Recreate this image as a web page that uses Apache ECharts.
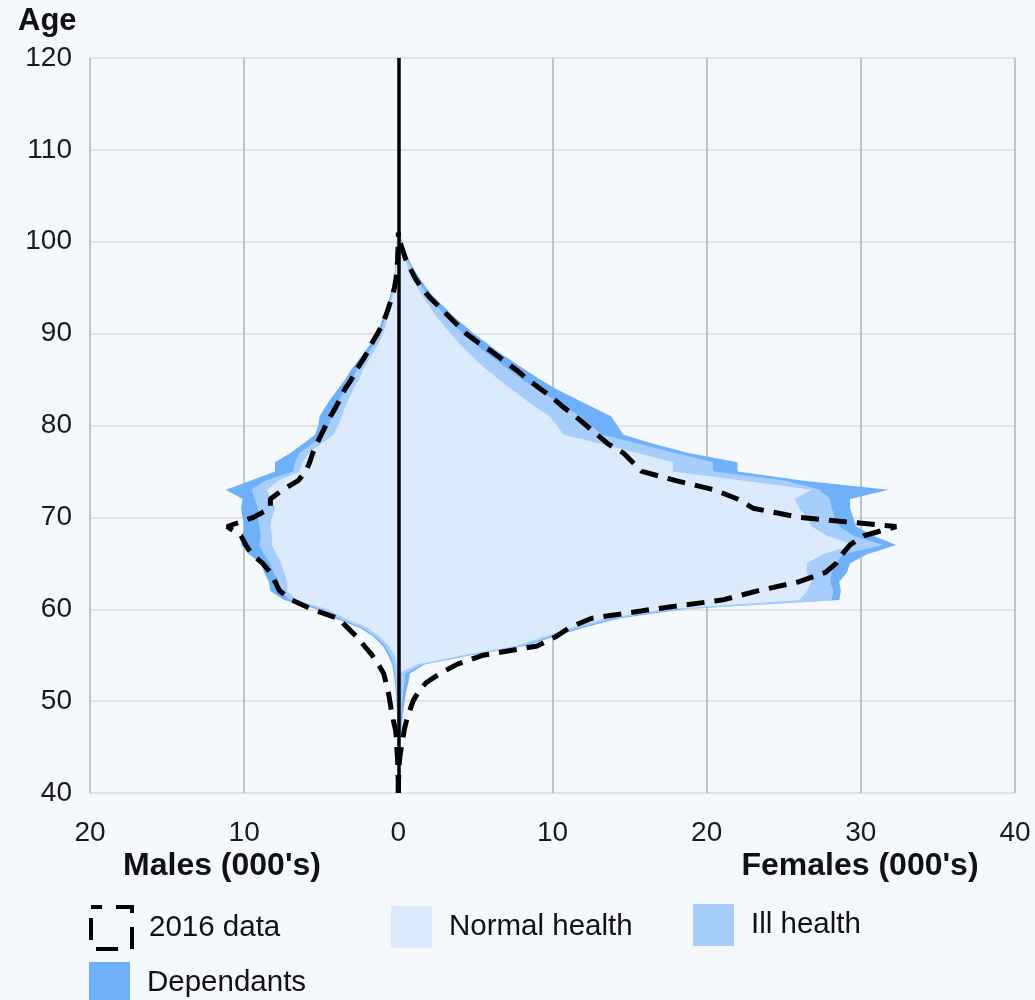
<!DOCTYPE html>
<html><head><meta charset="utf-8">
<script src="https://cdn.jsdelivr.net/npm/echarts@6/dist/echarts.min.js"></script>
<style>html,body{margin:0;padding:0;background:#f5f8fd;}#c{width:1035px;height:1000px;}</style>
</head><body><div id="c"></div>
<script>
// Age categories (y axis)
const ages = ['40','41','42','43','44','45','46','47','48','49','50','51','52','53','54','55','56','57','58','59',
'60','61','62','63','64','65','66','67','68','69','70','71','72','73','74','75','76','77','78','79',
'80','81','82','83','84','85','86','87','88','89','90','91','92','93','94','95','96','97','98','99',
'100','101','102','103','104','105','106','107','108','109','110','111','112','113','114','115','116','117','118','119','120'];
const xTicks = [-20,-10,0,10,20,30,40];

// Series values for ages 40..101 (thousands). Males stored as magnitudes.
const femaleNormal = [0,0,0,0,0,0,0,0,0,0,0,0,0,0,1.2,4.1,7.6,9.4,11.2,13.4,
17.3,26.0,26.5,26.8,26.5,26.5,27.5,29.5,27.8,26.8,26.5,26.0,25.7,26.8,22.4,17.8,17.8,15.5,13.2,10.7,
10.3,9.8,8.9,8.1,7.3,6.5,5.8,5.1,4.5,3.9,3.4,2.9,2.4,2.0,1.6,1.25,0.95,0.65,0.45,0.25,0.12,0.03];
const femaleIll = [0,0,0,0,0,0.05,0.08,0.12,0.15,0.2,0.25,0.3,0.4,0.45,0.3,0.35,0.35,0.4,0.45,0.5,
0.7,2.1,1.7,1.2,1.6,1.9,1.3,1.9,1.7,1.8,1.8,2.1,2.3,0.5,2.7,2.6,2.6,2.4,2.4,2.5,
2.2,2.0,1.9,1.8,1.6,1.5,1.4,1.3,1.1,1.0,0.8,0.7,0.6,0.5,0.4,0.3,0.25,0.2,0.15,0.12,0.08,0.04];
const femaleDep = [0,0,0,0,0,0.03,0.04,0.08,0.1,0.13,0.15,0.2,0.25,0.3,0.2,0.25,0.25,0.3,0.35,0.4,
0.5,0.5,0.5,0.6,1.0,0.9,1.6,0.9,1.3,1.1,1.2,1.2,1.3,4.5,1.2,1.6,1.6,0.9,1.0,1.4,
1.7,2.0,1.8,1.5,1.3,1.2,1.1,1.0,0.9,0.8,0.7,0.6,0.5,0.4,0.3,0.25,0.2,0.15,0.1,0.08,0.05,0.03];
const female2016 = [0,0,0.03,0.05,0.1,0.2,0.3,0.4,0.55,0.75,0.95,1.3,1.8,2.7,3.8,5.5,9.0,10.2,11.1,12.5,
16.5,21.0,23.3,26.0,27.7,28.4,28.8,29.3,30.2,32.3,26.0,23.0,22.0,20.5,18.0,15.8,15.2,14.6,13.6,12.9,
12.2,11.5,10.7,10.0,9.2,8.4,7.7,6.9,6.1,5.2,4.4,3.8,3.2,2.6,2.0,1.5,1.1,0.8,0.5,0.3,0.1,0];

const maleNormal = [0,0,0,0,0,0,0,0,0,0,0,0,0,0,0.1,0.25,0.6,1.2,2.0,3.4,
4.6,6.6,7.2,7.2,7.4,7.6,7.9,8.2,8.2,8.3,8.2,8.0,8.3,8.5,7.8,6.4,6.2,5.8,5.0,4.2,
3.9,3.65,3.45,3.2,2.9,2.55,2.3,1.95,1.6,1.25,0.99,0.8,0.66,0.52,0.37,0.26,0.17,0.12,0.09,0.07,0.05,0.02];
const maleIll = [0,0,0,0,0,0.02,0.03,0.04,0.05,0.07,0.08,0.12,0.15,0.2,0.2,0.25,0.25,0.25,0.3,0.4,
0.4,0.4,0.5,0.5,0.7,0.7,0.8,0.8,0.7,0.7,0.9,1.1,1.0,1.0,0.8,0.4,0.5,0.6,0.6,0.6,
0.6,0.65,0.6,0.55,0.5,0.45,0.4,0.35,0.3,0.25,0.2,0.17,0.14,0.11,0.09,0.07,0.05,0.04,0.03,0.03,0.03,0.02];
const maleDep = [0,0,0,0,0,0.01,0.02,0.02,0.03,0.03,0.04,0.05,0.07,0.1,0.1,0.15,0.15,0.15,0.2,0.3,
0.3,0.4,0.6,0.7,0.6,0.6,1.0,1.2,1.2,1.0,1.0,1.1,0.8,1.7,1.0,1.2,1.3,0.6,0.6,0.6,
0.7,0.8,0.7,0.6,0.5,0.45,0.4,0.35,0.3,0.25,0.21,0.18,0.15,0.12,0.09,0.07,0.05,0.04,0.03,0.02,0.02,0.01];
const male2016 = [0,0,0.02,0.04,0.06,0.1,0.12,0.2,0.34,0.45,0.55,0.65,0.8,0.95,1.3,1.7,2.2,2.7,3.3,3.9,
5.6,6.9,7.7,8.0,8.3,8.8,9.5,9.9,10.2,11.1,9.4,8.3,8.3,7.5,6.5,6.0,5.75,5.55,5.3,5.0,
4.7,4.4,4.05,3.75,3.45,3.05,2.75,2.35,2.0,1.7,1.35,1.05,0.8,0.6,0.4,0.25,0.15,0.1,0.05,0.03,0,0];

const C_NORMAL = '#dbeafd', C_ILL = '#a6cdfb', C_DEP = '#6eb1fa';
const FONT = '"Liberation Sans", Arial, sans-serif';
const neg = a => a.map(v => -v);

function area(name, stack, data, color) {
  return {
    name, type: 'line', stack, data, symbol: 'none', showSymbol: false, silent: true,
    lineStyle: { width: 0 }, itemStyle: { color }, areaStyle: { color, opacity: 1 },
    emphasis: { disabled: true }, z: 2, animation: false
  };
}
function dashed(data) {
  return {
    name: '2016 data', type: 'line', data, symbol: 'none', showSymbol: false, silent: true,
    itemStyle: { color: '#000' },
    lineStyle: { color: '#000', width: 5, type: [18, 10] },
    emphasis: { disabled: true }, z: 5, animation: false
  };
}

const series = [
  area('Normal health', 'm', neg(maleNormal), C_NORMAL),
  area('Ill health', 'm', neg(maleIll), C_ILL),
  area('Dependants', 'm', neg(maleDep), C_DEP),
  area('Normal health', 'f', femaleNormal, C_NORMAL),
  area('Ill health', 'f', femaleIll, C_ILL),
  area('Dependants', 'f', femaleDep, C_DEP),
  {
    type: 'line', data: [], silent: true, z: 4,
    markLine: { silent: true, symbol: ['none', 'none'], label: { show: false }, animation: false,
      lineStyle: { color: '#000', width: 3.5, type: 'solid' }, data: [{ xAxis: 0 }] }
  },
  dashed(neg(male2016)),
  dashed(female2016)
];

const legendText = { fontSize: 29.5, color: '#111', fontFamily: FONT, padding: [0, 0, 0, 12] };
function legendAt(left, top, item) {
  return { left, top, padding: 0, orient: 'horizontal', selectedMode: false, itemWidth: 41, itemHeight: 42,
    textStyle: legendText, data: [item] };
}

const chart = echarts.init(document.getElementById('c'), null, { renderer: 'canvas' });
chart.setOption({
  backgroundColor: '#f5f8fd',
  animation: false,
  textStyle: { fontFamily: FONT },
  grid: { left: 90, right: 20, top: 58, bottom: 207, containLabel: false },
  xAxis: {
    type: 'value', min: xTicks[0], max: xTicks[xTicks.length - 1], interval: 10,
    axisLine: { show: false }, axisTick: { show: false },
    axisLabel: { fontSize: 28, color: '#1a1a1a', margin: 26, fontFamily: FONT, formatter: v => String(Math.abs(v)) },
    splitLine: { show: true, lineStyle: { color: '#b3b3b3', width: 1.5 } }
  },
  yAxis: {
    type: 'category', data: ages, boundaryGap: false,
    axisLine: { show: false }, axisTick: { show: false },
    axisLabel: { fontSize: 28, color: '#1a1a1a', margin: 18, fontFamily: FONT, interval: (i) => i % 10 === 0 },
    splitLine: { show: true, interval: (i) => i % 10 === 0, lineStyle: { color: '#dcdcdc', width: 1.5 } }
  },
  legend: [
    legendAt(89, 905, { name: '2016 data', icon: 'rect',
      itemStyle: { color: 'rgba(0,0,0,0)', borderColor: '#000', borderWidth: 4, borderType: [22, 14], borderDashOffset: 11 } }),
    legendAt(391, 906, { name: 'Normal health', icon: 'rect', itemStyle: { color: C_NORMAL } }),
    legendAt(693, 904, { name: 'Ill health', icon: 'rect', itemStyle: { color: C_ILL } }),
    legendAt(89, 962, { name: 'Dependants', icon: 'rect', itemStyle: { color: C_DEP } })
  ],
  graphic: [
    { type: 'text', silent: true, style: { text: 'Age', x: 18, y: 21, align: 'left', verticalAlign: 'middle', font: 'bold 31px ' + FONT, fill: '#111' } },
    { type: 'text', silent: true, style: { text: "Males (000's)", x: 222, y: 866, align: 'center', verticalAlign: 'middle', font: 'bold 32px ' + FONT, fill: '#111' } },
    { type: 'text', silent: true, style: { text: "Females (000's)", x: 860, y: 866, align: 'center', verticalAlign: 'middle', font: 'bold 32px ' + FONT, fill: '#111' } }
  ],
  series
});
</script>
</body></html>
